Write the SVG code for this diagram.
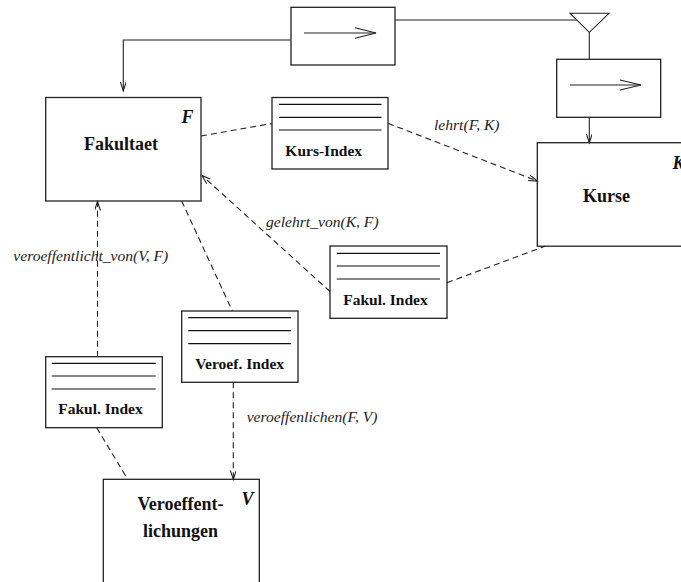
<svg xmlns="http://www.w3.org/2000/svg" width="681" height="582" viewBox="0 0 681 582">
  <style>
    .box { fill: #fff; stroke: #222; stroke-width: 1.3; }
    .rule { stroke: #111; stroke-width: 1.2; fill: none; }
    .solid { stroke: #222; stroke-width: 1.1; fill: none; }
    .dash { stroke: #222; stroke-width: 1.1; fill: none; stroke-dasharray: 6 4; }
    .title { font-family: "Liberation Serif", "Times New Roman", serif; font-weight: bold; font-size: 18px; fill: #111; text-anchor: middle; }
    .idx { font-family: "Liberation Serif", "Times New Roman", serif; font-weight: bold; font-size: 15.5px; fill: #111; text-anchor: middle; }
    .tag { font-family: "Liberation Serif", "Times New Roman", serif; font-weight: bold; font-style: italic; font-size: 18px; fill: #111; }
    .rel { font-family: "Liberation Serif", "Times New Roman", serif; font-style: italic; font-size: 15.6px; fill: #222; }
  </style>
  <defs>
    <marker id="open" markerUnits="userSpaceOnUse" markerWidth="12" markerHeight="10" refX="9" refY="3" orient="auto">
      <path d="M0,0 L9,3 L0,6" fill="none" stroke="#222" stroke-width="1.1" stroke-dasharray="none"/>
    </marker>
  </defs>

  <!-- flow widgets at the top -->
  <g id="flow-top">
    <rect class="box" x="291" y="7.3" width="104" height="57.7"/>
    <line class="solid" x1="304" y1="33" x2="376" y2="33"/>
    <polyline class="solid" points="355,27.7 376,33 355,38.3"/>
  </g>
  <g id="split">
    <polygon class="solid" points="570,13.3 609,13.3 589.3,32.3"/>
  </g>
  <g id="flow-right">
    <rect class="box" x="556.7" y="59.3" width="104" height="58"/>
    <line class="solid" x1="570" y1="85" x2="641" y2="85"/>
    <polyline class="solid" points="620,80 641,85 620,90"/>
  </g>

  <!-- entity boxes -->
  <g id="fakultaet">
    <rect class="box" x="45.7" y="97.5" width="155.3" height="103.5"/>
    <text class="title" x="121" y="150">Fakultaet</text>
    <text class="tag" x="181.5" y="123.3">F</text>
  </g>
  <g id="kurse">
    <rect class="box" x="537.3" y="142.7" width="155" height="103.5"/>
    <text class="title" x="606.5" y="201.7">Kurse</text>
    <text class="tag" x="672.5" y="168.5">K</text>
  </g>
  <g id="veroeffentlichungen">
    <rect class="box" x="103.3" y="479.3" width="156" height="103.5"/>
    <text class="title" x="180.5" y="510">Veroeffent-</text>
    <text class="title" x="180.5" y="536.7">lichungen</text>
    <text class="tag" x="241.5" y="505">V</text>
  </g>

  <!-- index boxes -->
  <g id="kurs-index">
    <rect class="box" x="272" y="97.5" width="116" height="71.5"/>
    <line class="rule" x1="279" y1="104.3" x2="381.5" y2="104.3"/>
    <line class="rule" x1="279" y1="117.3" x2="381.5" y2="117.3"/>
    <line class="rule" x1="279" y1="130" x2="381.5" y2="130"/>
    <text class="idx" x="323.7" y="155.7">Kurs-Index</text>
  </g>
  <g id="fakul-index-k">
    <rect class="box" x="330" y="246" width="117" height="72.3"/>
    <line class="rule" x1="336.7" y1="253.3" x2="440" y2="253.3"/>
    <line class="rule" x1="336.7" y1="266" x2="440" y2="266"/>
    <line class="rule" x1="336.7" y1="279" x2="440" y2="279"/>
    <text class="idx" x="385.5" y="305">Fakul. Index</text>
  </g>
  <g id="veroef-index">
    <rect class="box" x="181.7" y="311" width="116.3" height="71.3"/>
    <line class="rule" x1="188.3" y1="317.7" x2="291" y2="317.7"/>
    <line class="rule" x1="188.3" y1="330.7" x2="291" y2="330.7"/>
    <line class="rule" x1="188.3" y1="343.7" x2="291" y2="343.7"/>
    <text class="idx" x="239.7" y="369">Veroef. Index</text>
  </g>
  <g id="fakul-index-v">
    <rect class="box" x="45.7" y="356.7" width="116.6" height="71"/>
    <line class="rule" x1="51.7" y1="363.3" x2="155.7" y2="363.3"/>
    <line class="rule" x1="51.7" y1="376" x2="155.7" y2="376"/>
    <line class="rule" x1="51.7" y1="389" x2="155.7" y2="389"/>
    <text class="idx" x="100.5" y="414.3">Fakul. Index</text>
  </g>

  <!-- connectors -->
  <g id="connectors">
    <polyline class="solid" points="291,40 123.3,40 123.3,90.7" marker-end="url(#open)"/>
    <line class="solid" x1="395" y1="20" x2="576.5" y2="20"/>
    <line class="solid" x1="589.3" y1="32.3" x2="589.3" y2="59.3"/>
    <line class="solid" x1="589.3" y1="117.3" x2="589.3" y2="142.7" marker-end="url(#open)"/>

    <line class="dash" x1="201" y1="136" x2="272" y2="123.5"/>
    <line class="dash" x1="388" y1="123.3" x2="537.3" y2="181" marker-end="url(#open)"/>
    <line class="dash" x1="330" y1="291.5" x2="202" y2="175.5" marker-end="url(#open)"/>
    <line class="dash" x1="447" y1="282.7" x2="545" y2="246.2"/>
    <line class="dash" x1="97.5" y1="356.7" x2="97.5" y2="201.5" marker-end="url(#open)"/>
    <line class="dash" x1="181.7" y1="201" x2="232.3" y2="311"/>
    <line class="dash" x1="233.3" y1="382.3" x2="233.3" y2="479.3" marker-end="url(#open)"/>
    <line class="dash" x1="96.7" y1="427.7" x2="127.7" y2="479.3"/>
  </g>

  <!-- relation labels -->
  <g id="labels">
    <text class="rel" x="434" y="129.5">lehrt(F, K)</text>
    <text class="rel" x="266" y="227">gelehrt_von(K, F)</text>
    <text class="rel" x="13.3" y="260.5">veroeffentlicht_von(V, F)</text>
    <text class="rel" x="246.7" y="421.5">veroeffenlichen(F, V)</text>
  </g>
</svg>
